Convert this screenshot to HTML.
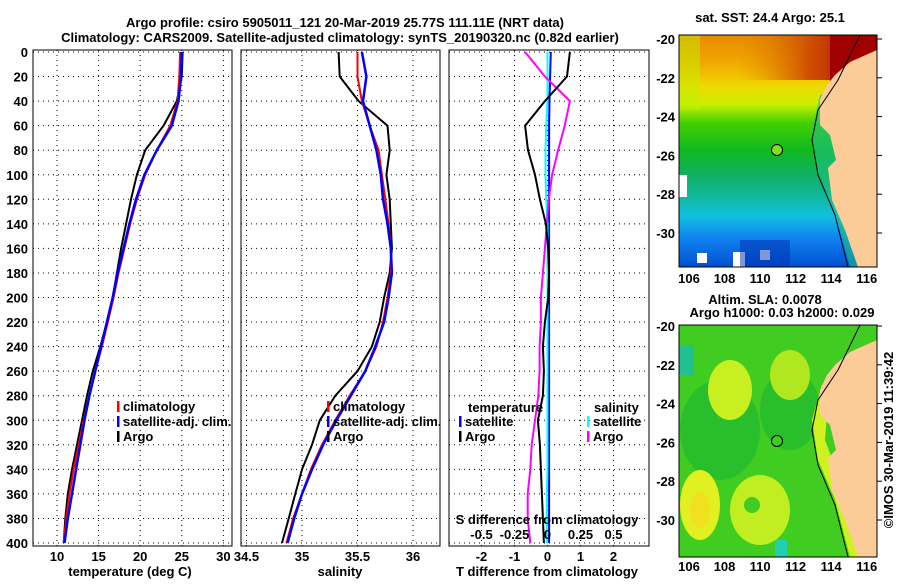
<!DOCTYPE html>
<html><head><meta charset="utf-8"><style>
body{margin:0;background:#fff;width:900px;height:580px;overflow:hidden;font-family:"Liberation Sans",sans-serif}
svg text{font-family:"Liberation Sans",sans-serif;font-weight:bold;font-size:13px;fill:#000}
</style></head><body>
<svg id="c" width="900" height="580">
<defs>
<linearGradient id="sst" x1="0" y1="0" x2="0" y2="1">
<stop offset="0" stop-color="#e88800"/><stop offset="0.12" stop-color="#f0a800"/>
<stop offset="0.22" stop-color="#f0d800"/><stop offset="0.3" stop-color="#c8f000"/>
<stop offset="0.38" stop-color="#40d000"/><stop offset="0.5" stop-color="#10b820"/>
<stop offset="0.6" stop-color="#10b060"/><stop offset="0.7" stop-color="#10b8a0"/>
<stop offset="0.78" stop-color="#10c0e0"/><stop offset="0.88" stop-color="#1080f0"/>
<stop offset="1" stop-color="#0050d0"/></linearGradient>
<linearGradient id="red" x1="0" y1="0" x2="1" y2="0">
<stop offset="0" stop-color="#e08000" stop-opacity="0"/><stop offset="0.5" stop-color="#d05000"/><stop offset="1" stop-color="#a00000"/></linearGradient>
<clipPath id="m1"><rect x="679" y="35" width="198" height="232"/></clipPath>
<clipPath id="m2"><rect x="679" y="325" width="198" height="232"/></clipPath>
</defs>
<g id="titles">
<text x="345" y="27" text-anchor="middle" font-size="14">Argo profile: csiro 5905011_121 20-Mar-2019 25.77S 111.11E (NRT data)</text>
<text x="340" y="42" text-anchor="middle" font-size="14">Climatology: CARS2009. Satellite-adjusted climatology: synTS_20190320.nc (0.82d earlier)</text>
</g>
<g id="p1"></g>
<g id="p2"></g>
<g id="p3"></g>
<g id="map1" clip-path="url(#m1)">
<rect x="679" y="35" width="198" height="232" fill="url(#sst)"/>
<rect x="740" y="35" width="137" height="45" fill="url(#red)"/>
<rect x="830" y="35" width="47" height="50" fill="#a00000"/>
<path d="M679,35 L700,35 L700,110 L679,110 Z" fill="#c0f000" opacity="0.5"/>
<rect x="679" y="175" width="8" height="22" fill="#fff"/>
<rect x="697" y="253" width="10" height="10" fill="#fff"/>
<rect x="733" y="252" width="12" height="15" fill="#fff"/>
<rect x="760" y="250" width="10" height="10" fill="#fff"/>
<rect x="740" y="240" width="50" height="27" fill="#0030b0" opacity="0.5"/>
<path d="M820,95 L812,130 L818,170 L835,210 L850,267 L877,267 L877,80 Z" fill="#20c080" opacity="0.6"/>
<polygon points="877,50 850,62 835,75 827,85 820,100 820,125 830,135 836,160 828,168 832,200 845,230 858,267 877,267" fill="#fccc98"/>
<polyline points="860,35 838,80 818,110 812,140 818,175 835,215 848,267" fill="none" stroke="#000" stroke-width="1"/>
<circle cx="777" cy="150" r="5.5" fill="#80e020" stroke="#000" stroke-width="1"/>
</g>
<rect x="679" y="35" width="198" height="232" fill="none" stroke="#000"/>
<g id="map2" clip-path="url(#m2)">
<rect x="679" y="325" width="198" height="232" fill="#40cc20"/>
<ellipse cx="720" cy="430" rx="40" ry="50" fill="#20b830" opacity="0.7"/>
<ellipse cx="790" cy="410" rx="30" ry="40" fill="#20b830" opacity="0.7"/>
<ellipse cx="730" cy="390" rx="22" ry="30" fill="#c8f020"/>
<ellipse cx="790" cy="375" rx="20" ry="25" fill="#b0e820"/>
<ellipse cx="700" cy="505" rx="20" ry="35" fill="#e0f020"/>
<ellipse cx="700" cy="510" rx="10" ry="18" fill="#f0e020"/>
<ellipse cx="760" cy="510" rx="30" ry="35" fill="#c0ee20"/>
<ellipse cx="752" cy="505" rx="8" ry="8" fill="#40cc20"/>
<rect x="679" y="345" width="15" height="30" fill="#20c090"/>
<rect x="775" y="540" width="12" height="17" fill="#20d0b0"/>
<path d="M822,385 L812,420 L818,460 L835,500 L850,557 L862,557 L840,480 L825,440 L830,380 Z" fill="#d0f020"/>
<polygon points="877,340 850,352 835,365 827,375 820,390 820,415 830,425 836,450 828,458 832,490 845,520 858,557 877,557" fill="#fccc98"/>
<polyline points="860,325 838,370 818,400 812,430 818,465 835,505 848,557" fill="none" stroke="#000" stroke-width="1"/>
<circle cx="777" cy="441" r="5.5" fill="#40cc20" stroke="#000" stroke-width="1"/>
</g>
<rect x="679" y="325" width="198" height="232" fill="none" stroke="#000"/>
<g id="maplabels">
<text x="770" y="22" text-anchor="middle">sat. SST: 24.4 Argo: 25.1</text>
<text x="765" y="304" text-anchor="middle">Altim. SLA: 0.0078</text>
<text x="782" y="317" text-anchor="middle">Argo h1000: 0.03 h2000: 0.029</text>
<text transform="translate(893,440) rotate(-90)" text-anchor="middle" font-size="12">©IMOS 30-Mar-2019 11:39:42</text>
</g>
</svg>
<script>
var depths=[0,20,40,60,80,100,120,140,160,180,200,220,240,260,280,300,320,340,360,380,400];
var tClim=[24.8,24.7,24.5,23.6,22.0,20.6,19.6,18.8,18.1,17.4,16.8,16.1,15.4,14.6,13.9,13.2,12.6,12.0,11.5,11.1,10.8];
var tSat=[25.0,24.9,24.6,23.8,22.0,20.5,19.5,18.7,18.0,17.3,16.7,16.0,15.3,14.6,13.9,13.3,12.8,12.3,11.8,11.3,10.9];
var tArgo=[25.1,25.0,24.4,22.8,20.6,19.6,18.9,18.3,17.7,17.2,16.7,16.0,15.2,14.3,13.6,13.0,12.4,11.8,11.3,11.0,10.8];
var sClim=[35.5,35.5,35.54,35.61,35.69,35.72,35.75,35.78,35.8,35.8,35.77,35.73,35.67,35.57,35.43,35.3,35.18,35.08,35.0,34.92,34.86];
var sSat=[35.54,35.58,35.55,35.61,35.67,35.71,35.73,35.77,35.8,35.81,35.78,35.74,35.66,35.57,35.44,35.31,35.19,35.09,35.0,34.93,34.87];
var sArgo=[35.33,35.34,35.51,35.77,35.79,35.76,35.79,35.8,35.81,35.79,35.74,35.7,35.63,35.5,35.3,35.16,35.09,35.0,34.94,34.88,34.82];
var tDiffArgo=[0.68,0.59,-0.08,-0.68,-0.59,-0.38,-0.23,-0.05,0.02,0.05,0.02,-0.08,-0.14,-0.11,-0.14,-0.29,-0.23,-0.2,-0.17,-0.14,-0.11];
var tDiffSat=[0.1,0.08,0.06,0.05,0.05,0.05,0.05,0.05,0.05,0.05,0.05,0.05,0.05,0.05,0.05,0.05,0.05,0.05,0.05,0.05,0.05];
var sDiffArgo=[-0.17,-0.02,0.17,0.13,0.08,0.035,0.01,-0.005,-0.02,-0.035,-0.05,-0.05,-0.06,-0.06,-0.07,-0.095,-0.12,-0.13,-0.15,-0.15,-0.13];
var sDiffSat=[0.0,0.0,0.0,-0.01,-0.015,-0.015,-0.01,0.0,0.0,0.0,0.0,0.0,0.0,0.0,0.0,0.0,0.0,0.0,-0.005,-0.005,-0.005];
var depthTicks=[0,20,40,60,80,100,120,140,160,180,200,220,240,260,280,300,320,340,360,380,400];
var tTicks=[10,15,20,25,30];
var sTicks=[34.5,35,35.5,36];
var dTicks=[-2,-1,0,1,2];
var sdTicks=[-0.5,-0.25,0,0.25,0.5];
var sdTickLabels=["-0.5","-0.25","0","0.25","0.5"];
var mapLatTicks=[-20,-22,-24,-26,-28,-30];
var mapLonTicks=[106,108,110,112,114,116];

var NS='http://www.w3.org/2000/svg';
function mk(tag,at,parent){var e=document.createElementNS(NS,tag);for(var k in at)e.setAttribute(k,at[k]);parent.appendChild(e);return e;}
function yD(d){return 52+d*491/400;}
function xT(v){return 57+(v-10)*41.6/5;}
function xS(v){return 302+(v-35)*111;}
function xD(v){return 547.5+v*33;}
function xSD(v){return 547.5+v*132;}
var TOP=50,BOT=546;
function panel(g,x0,x1,ticks,xf,labels,title,tx){
  mk('rect',{x:x0,y:TOP,width:x1-x0,height:BOT-TOP,fill:'none',stroke:'#000','stroke-width':1},g);
  depthTicks.forEach(function(d){var l=mk('line',{x1:x0,x2:x1,y1:yD(d),y2:yD(d),stroke:'#000','stroke-dasharray':'1,4'},g);
    });
  ticks.forEach(function(v,i){var x=xf(v);var l=mk('line',{x1:x,x2:x,y1:TOP,y2:BOT,stroke:'#000','stroke-dasharray':'1,4'},g);
    
    var t=mk('text',{x:x,y:561,'text-anchor':'middle'},g);t.textContent=labels?labels[i]:String(v);
    });
  var t=mk('text',{x:tx,y:576,'text-anchor':'middle'},g);t.textContent=title;
  
}
function line(g,xs,xf,col,w,name){var p=depths.map(function(d,i){return xf(xs[i]).toFixed(1)+','+yD(d).toFixed(1);}).join(' ');
  var e=mk('polyline',{points:p,fill:'none',stroke:col,'stroke-width':w},g);
  }
function leg(g,x,y,col,txt){var r=mk('rect',{x:x,y:y-10,width:2.5,height:11,fill:col},g);
  
  var t=mk('text',{x:x+6,y:y},g);t.textContent=txt;}
var p1=document.getElementById('p1'),p2=document.getElementById('p2'),p3=document.getElementById('p3');
panel(p1,33,232,tTicks,xT,null,'temperature (deg C)',130);
depthTicks.forEach(function(d){var t=mk('text',{x:28,y:yD(d)+5,'text-anchor':'end'},p1);t.textContent=d;
  });
line(p1,tArgo,xT,'#000',2,'argo-temperature-line');
line(p1,tClim,xT,'#f00',2,'climatology-temperature-line');
line(p1,tSat,xT,'#00f',2.5,'satellite-temperature-line');
leg(p1,117,411,'#f00','climatology');leg(p1,117,426,'#00f','satellite-adj. clim.');leg(p1,117,441,'#000','Argo');
panel(p2,241,440,sTicks,xS,null,'salinity',340);
line(p2,sArgo,xS,'#000',2,'argo-salinity-line');
line(p2,sClim,xS,'#f00',2,'climatology-salinity-line');
line(p2,sSat,xS,'#00f',2.5,'satellite-salinity-line');
leg(p2,327,411,'#f00','climatology');leg(p2,327,426,'#00f','satellite-adj. clim.');leg(p2,327,441,'#000','Argo');
panel(p3,449,649,dTicks,xD,null,'T difference from climatology',547);
line(p3,tDiffSat,xD,'#00f',2,'satellite-t-diff-line');
line(p3,sDiffSat,xSD,'#0ff',2,'satellite-s-diff-line');
line(p3,sDiffArgo,xSD,'#f0f',2,'argo-s-diff-line');
line(p3,tDiffArgo,xD,'#000',2,'argo-t-diff-line');
var t=mk('text',{x:468,y:412},p3);t.textContent='temperature';
leg(p3,459,426,'#00f','satellite');leg(p3,459,441,'#000','Argo');
t=mk('text',{x:594,y:412},p3);t.textContent='salinity';
leg(p3,587,426,'#0ff','satellite');leg(p3,587,441,'#f0f','Argo');
t=mk('text',{x:547,y:524,'text-anchor':'middle'},p3);t.textContent='S difference from climatology';

sdTicks.forEach(function(v,i){var t=mk('text',{x:xSD(v),y:539,'text-anchor':'middle'},p3);t.textContent=sdTickLabels[i];
  });
var ml=document.getElementById('maplabels');
[[39,283],[326,571]].forEach(function(o){
  mapLatTicks.forEach(function(v){var y=o[0]+(-20-v)*19.4;var t=mk('text',{x:675,y:y+5,'text-anchor':'end'},ml);t.textContent=v;
    
    mk('line',{x1:877,x2:882,y1:y,y2:y,stroke:'#000'},ml);});
  mapLonTicks.forEach(function(v){var x=689+(v-106)*17.77;var t=mk('text',{x:x,y:o[1],'text-anchor':'middle'},ml);t.textContent=v;
    });
});
</script>
</body></html>
